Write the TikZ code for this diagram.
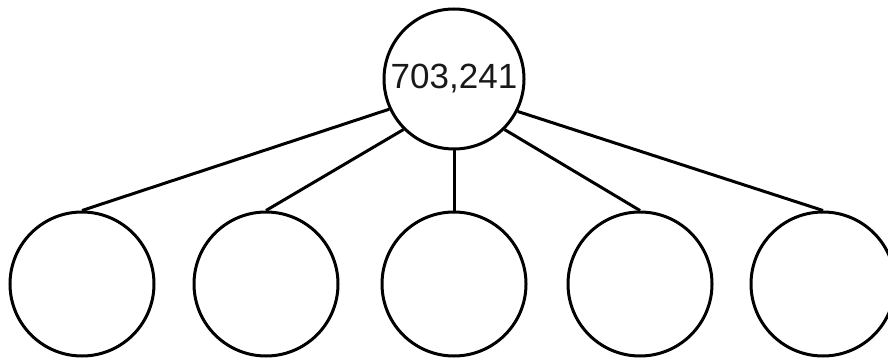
\documentclass[tikz,border=0pt]{standalone}
\usepackage{fontspec}
\setmainfont{Liberation Sans}
\usepackage{tikz}
\begin{document}
\begin{tikzpicture}[
  x=1pt, y=-1pt,
  rootnode/.style={circle, draw=black, line width=3pt, fill=white,
               minimum size=140pt, inner sep=0pt,
               font=\fontsize{35}{40}\selectfont, text=black!90},
  leafnode/.style={circle, draw=black, line width=3pt, fill=white,
               minimum size=144pt, inner sep=0pt},
  edge/.style={line width=3pt, color=black}
]
  \useasboundingbox (0,0) rectangle (888,358);

  \node[rootnode] (root) at (454,79) {703,241};

  \node[leafnode] (c1) at (82,284) {};
  \node[leafnode] (c2) at (266,284) {};
  \node[leafnode] (c3) at (454,284) {};
  \node[leafnode] (c4) at (640,284) {};
  \node[leafnode] (c5) at (823,284) {};

  \draw[edge] (root.205) -- (c1.north);
  \draw[edge] (root.225) -- (c2.north);
  \draw[edge] (root.south) -- (c3.north);
  \draw[edge] (root.315) -- (c4.north);
  \draw[edge] (root.333) -- (c5.north);
\end{tikzpicture}
\end{document}
